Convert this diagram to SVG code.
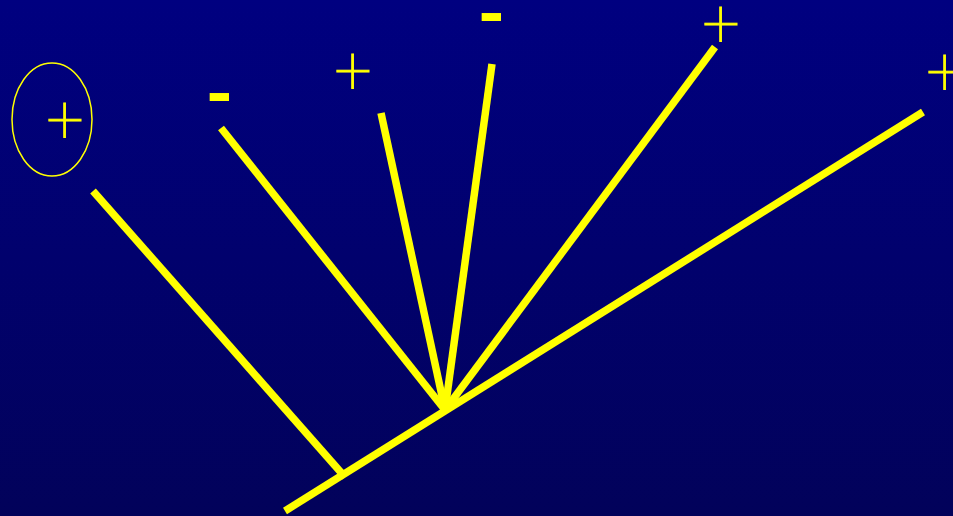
<svg xmlns="http://www.w3.org/2000/svg" width="953" height="516" viewBox="0 0 953 516">
<defs>
<linearGradient id="bg" x1="0" y1="0" x2="0" y2="1">
<stop offset="0" stop-color="#000080"/>
<stop offset="1" stop-color="#02025a"/>
</linearGradient>
<style>
.ray{stroke:#ffff00;stroke-width:7.5;fill:none;stroke-linecap:butt}
.plus{fill:#ffff00;stroke:#ffff00;stroke-width:0.9;font-family:Roboto,"DejaVu Sans",sans-serif;font-weight:100;font-size:66px;text-anchor:middle}
.minus{fill:#ffff00;font-family:"Liberation Sans",sans-serif;font-weight:bold;font-size:66px;text-anchor:middle}
</style>
</defs>
<rect width="953" height="516" fill="url(#bg)"/>
<g id="connectors">
<line class="ray" x1="285" y1="511" x2="923" y2="112"/>
<line class="ray" x1="93" y1="191" x2="345" y2="477"/>
<line class="ray" x1="221" y1="128" x2="445" y2="410"/>
<line class="ray" x1="381" y1="113" x2="445" y2="410"/>
<line class="ray" x1="492" y1="64" x2="445" y2="410"/>
<line class="ray" x1="715" y1="47" x2="445" y2="410"/>
</g>
<g id="circled-plus">
<ellipse cx="52" cy="119.5" rx="40" ry="56.5" fill="none" stroke="#ffff00" stroke-width="1.5"/>
<text class="plus" x="65" y="142">+</text>
</g>
<g id="minus1"><text class="minus" x="219.5" y="114" transform="translate(219.5 0) scale(1.15 1) translate(-219.5 0)">-</text></g>
<g id="plus2"><text class="plus" x="353" y="93">+</text></g>
<g id="minus2"><text class="minus" x="491.5" y="34" transform="translate(491.5 0) scale(1.15 1) translate(-491.5 0)">-</text></g>
<g id="plus3"><text class="plus" x="721" y="46">+</text></g>
<g id="plus4"><text class="plus" x="945" y="94">+</text></g>
</svg>
